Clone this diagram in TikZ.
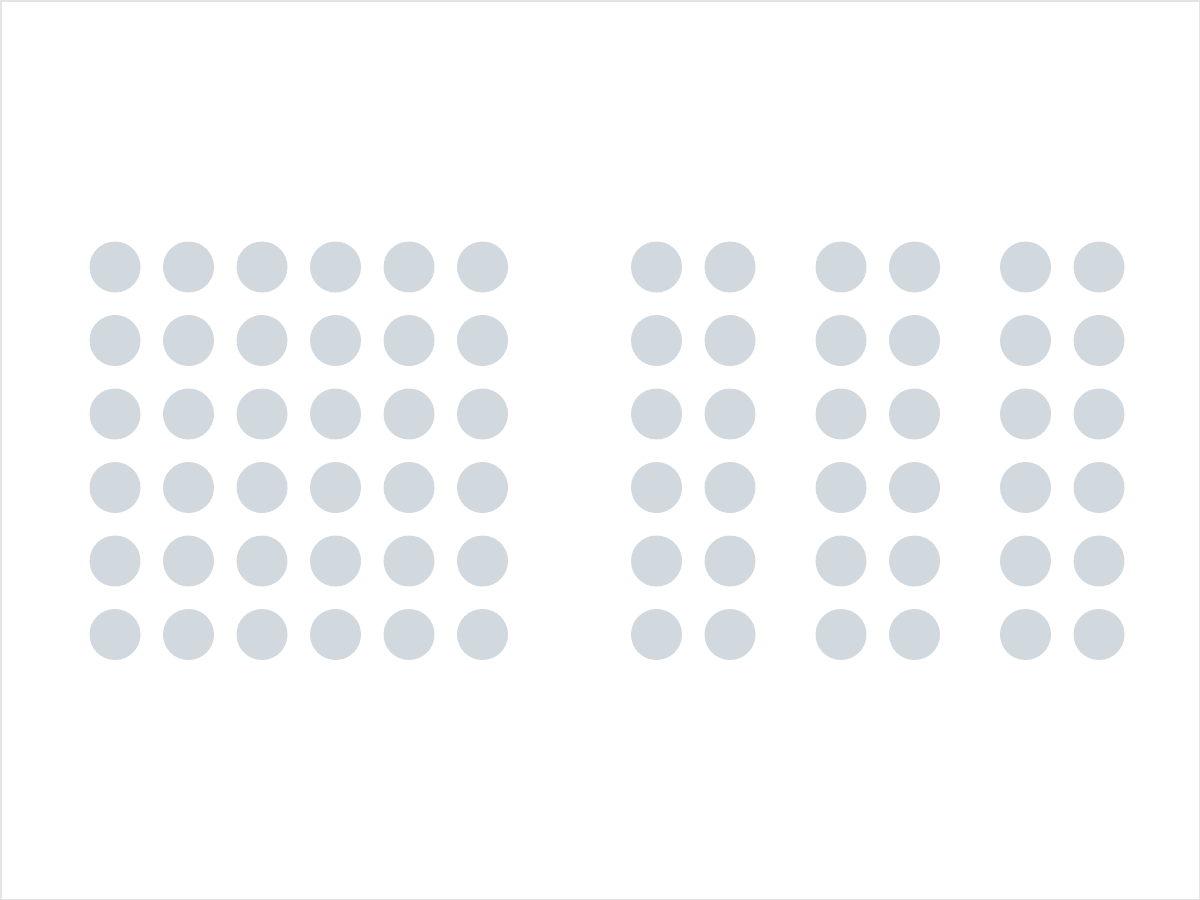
\documentclass[tikz,border=0pt]{standalone}
\definecolor{dotgray}{HTML}{D1D8DE}
\definecolor{framegray}{HTML}{E4E4E4}
\tikzset{dot/.style={circle,fill=dotgray,draw=none,minimum size=51pt,inner sep=0pt}}
\begin{document}
\begin{tikzpicture}[x=1pt,y=-1pt]
\useasboundingbox (0,0) rectangle (1200,900);
\draw[framegray,line width=1.5pt] (0.75,0.75) rectangle (1199.25,899.25);
\foreach \r in {0,...,5}{
  \foreach \c in {0,...,5}{
    \node[dot] (L-\r-\c) at ({115+73.5*\c},{267+73.5*\r}) {};
  }
  \foreach \c/\x in {0/656.5,1/730,2/841,3/914.5,4/1025.5,5/1099}{
    \node[dot] (R-\r-\c) at (\x,{267+73.5*\r}) {};
  }
}
\end{tikzpicture}
\end{document}
